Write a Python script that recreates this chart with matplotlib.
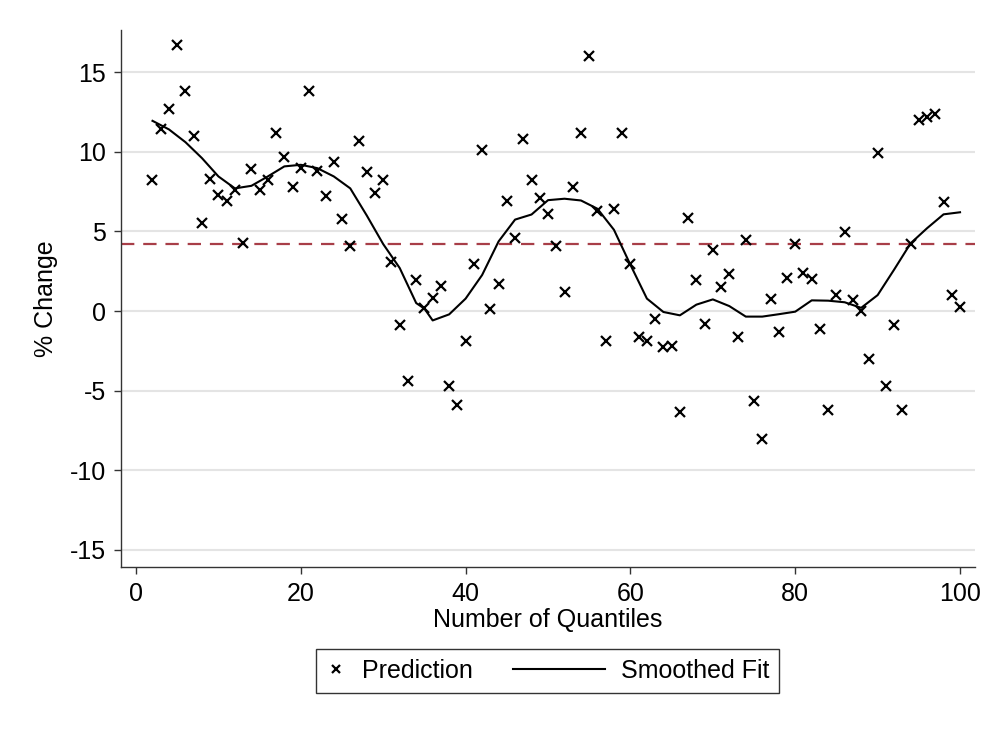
import numpy as np
import matplotlib
matplotlib.use("Agg")
import matplotlib.pyplot as plt
from matplotlib.legend_handler import HandlerLine2D

plt.rcParams['font.family'] = ['Liberation Sans', 'DejaVu Sans']
plt.rcParams['axes.unicode_minus'] = False

########## data ##########
quantiles = list(range(2, 101))
prediction = [8.2, 11.4, 12.7, 16.7, 13.8, 11.0, 5.5, 8.3, 7.3, 6.9,
              7.6, 4.3, 8.9, 7.6, 8.2, 11.2, 9.7, 7.8, 9.0, 13.8,
              8.8, 7.2, 9.35, 5.8, 4.1, 10.7, 8.7, 7.4, 8.2, 3.1,
              -0.9, -4.4, 1.95, 0.2, 0.8, 1.6, -4.7, -5.9, -1.9, 2.95,
              10.1, 0.1, 1.7, 6.9, 4.6, 10.8, 8.2, 7.1, 6.1, 4.1,
              1.2, 7.8, 11.2, 16.0, 6.3, -1.9, 6.4, 11.2, 2.95, -1.6,
              -1.9, -0.5, -2.25, -2.2, -6.35, 5.85, 1.95, -0.8, 3.8, 1.5,
              2.35, -1.6, 4.45, -5.65, -8.05, 0.75, -1.3, 2.1, 4.2, 2.4,
              2.0, -1.1, -6.2, 1.0, 4.95, 0.7, 0.0, -3.0, 9.9, -4.7,
              -0.9, -6.2, 4.2, 12.0, 12.2, 12.35, 6.85, 1.0, 0.25]

fit_x = [2, 4, 6, 8, 10, 12, 14, 16, 18, 20, 22, 24, 26, 28, 30, 32, 34, 35,
         36, 38, 40, 42, 44, 46, 48, 50, 52, 54, 56, 58, 60, 62, 64, 66, 68,
         70, 72, 74, 76, 78, 80, 82, 84, 86, 88, 90, 92, 94, 96, 98, 100]
fit_y = [11.94, 11.4, 10.6, 9.6, 8.45, 7.7, 7.86, 8.45, 9.08, 9.18, 8.97,
         8.45, 7.7, 6.0, 4.2, 2.7, 0.5, 0.15, -0.59, -0.21, 0.78, 2.26,
         4.37, 5.74, 6.06, 6.96, 7.05, 6.94, 6.42, 5.1, 2.9, 0.78, -0.06,
         -0.27, 0.4, 0.73, 0.31, -0.35, -0.35, -0.2, -0.04, 0.67, 0.65,
         0.55, 0.2, 1.0, 2.6, 4.25, 5.2, 6.07, 6.2]

mean_change = 4.2
yticks = [-15, -10, -5, 0, 5, 10, 15]
xticks = [0, 20, 40, 60, 80, 100]


# legend line that reaches further left than its (short) handle box
class LongLine(HandlerLine2D):
    def get_xdata(self, legend, xdescent, ydescent, width, height, fontsize):
        xd, xm = super().get_xdata(legend, xdescent, ydescent, width, height, fontsize)
        return np.array([xd[0] - 52, xd[-1]]), xm


fig = plt.figure(figsize=(10.01, 7.29), dpi=100)
ax = fig.add_axes([0.1209, 0.2222, 0.853, 0.7366])

for yt in yticks:
    ax.axhline(yt, color='#e4e4e4', lw=1.5, zorder=0)

ax.axhline(mean_change, color='#a83e48', lw=1.6, ls=(0, (6, 4)), zorder=1)
sc, = ax.plot(quantiles, prediction, ls='none', marker='x', ms=7.5,
              mew=1.6, color='black', label='Prediction', zorder=3)
ln, = ax.plot(fit_x, fit_y, color='black', lw=1.5, label='Smoothed Fit',
              zorder=2)

ax.set_xlim(-1.82, 101.8)
ax.set_ylim(-16.07, 17.64)
ax.set_xticks(xticks)
ax.set_yticks(yticks)
ax.tick_params(labelsize=18, length=5, width=1, color='#333333', pad=6)
for s in ['top', 'right']:
    ax.spines[s].set_visible(False)
for s in ['left', 'bottom']:
    ax.spines[s].set_color('#333333')
    ax.spines[s].set_linewidth(1.0)

ax.set_xlabel('Number of Quantiles', fontsize=18, labelpad=1)
ax.set_ylabel('% Change', fontsize=18, labelpad=8)

leg = fig.legend(handles=[sc, ln], loc='center', bbox_to_anchor=(0.547, 0.0796),
                 ncol=2, fontsize=18, handlelength=0.8, handletextpad=0.64,
                 columnspacing=4.48, markerscale=0.7, fancybox=False,
                 edgecolor='#333333', framealpha=1,
                 handler_map={ln: LongLine()})
leg.get_frame().set_linewidth(1.0)

fig.savefig('out.png', dpi=100)
